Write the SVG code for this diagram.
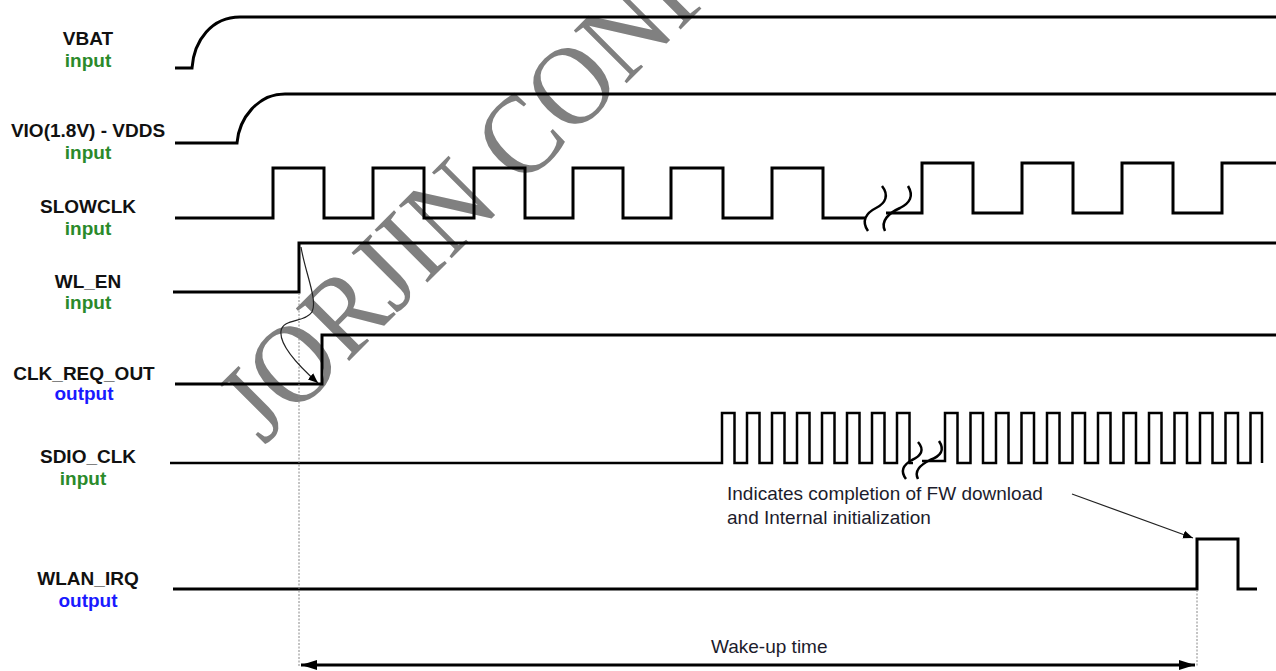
<svg xmlns="http://www.w3.org/2000/svg" width="1276" height="671" viewBox="0 0 1276 671">
<style>
.lbl{font-family:"Liberation Sans",Arial,sans-serif;font-weight:bold;font-size:19px;text-anchor:middle;fill:#111}
.in{fill:#2a8a2a}
.out{fill:#1a1aff}
.wf{fill:none;stroke:#000;stroke-width:3;stroke-linejoin:miter}
.thin{fill:none;stroke:#000;stroke-width:2.5}
.brk{fill:none;stroke:#000;stroke-width:2.5}
.dot{fill:none;stroke:#888;stroke-width:1;stroke-dasharray:2 1.5}
.note{font-family:"Liberation Sans",Arial,sans-serif;font-size:19px;fill:#1c1c2c}
.wm{font-family:"Liberation Serif","Times New Roman",serif;font-size:114px;fill:#808080}
</style>
<defs>
<marker id="ah" viewBox="0 0 10 10" refX="10" refY="5" markerWidth="10" markerHeight="10" markerUnits="userSpaceOnUse" orient="auto">
<path d="M0,1 L10,5 L0,9 Z" fill="#000"/>
</marker>
<marker id="big" viewBox="0 0 16 10" refX="16" refY="5" markerWidth="16" markerHeight="10" markerUnits="userSpaceOnUse" orient="auto-start-reverse">
<path d="M0,0 L16,5 L0,10 Z" fill="#000"/>
</marker>
</defs>
<rect width="1276" height="671" fill="#fff"/>

<g id="watermark">
<text class="wm" transform="translate(264,446) rotate(-45) scale(0.92,1)">JORJIN CONFI</text>
</g>

<g id="vbat">
<text class="lbl" x="88" y="45">VBAT</text>
<text class="lbl in" x="88" y="67">input</text>
<path class="wf" d="M175,68 H192 C194,40 212,17 240,17 H1276" stroke-width="3.5"/>
</g>

<g id="vio">
<text class="lbl" x="88" y="137">VIO(1.8V) - VDDS</text>
<text class="lbl in" x="88" y="159">input</text>
<path class="wf" d="M175,143 H237 C239,118 258,94 285,94 H1276"/>
</g>

<g id="slowclk">
<text class="lbl" x="88" y="213">SLOWCLK</text>
<text class="lbl in" x="88" y="235">input</text>
<path class="wf" d="M175,218 H273 V168 H324 V218 H373 V168 H424 V218 H474 V168 H525 V218 H573 V168 H623 V218 H671 V168 H723 V218 H772 V168 H823 V218 H866"/>
<path class="wf" d="M886,213 H922 V163 H973 V213 H1022 V163 H1073 V213 H1122 V163 H1173 V213 H1222 V163 H1276"/>
<path class="brk" d="M882,186 C889,195 886,203 876,208 C866,213 861,221 868,231"/>
<path class="brk" d="M908,186 C914,196 910,203 900,208 C889,213 880,221 885,231"/>
</g>

<g id="wl_en">
<text class="lbl" x="88" y="288">WL_EN</text>
<text class="lbl in" x="88" y="309">input</text>
<path class="wf" d="M173,292 H299 V243 H1276"/>
</g>

<g id="clk_req_out">
<text class="lbl" x="84" y="380">CLK_REQ_OUT</text>
<text class="lbl out" x="84" y="400">output</text>
<path class="wf" d="M175,384 H322 V335 H1276"/>
</g>

<g id="sdio_clk">
<text class="lbl" x="88" y="463">SDIO_CLK</text>
<text class="lbl in" x="83" y="485">input</text>
<path class="thin" d="M170,463 H722 V413 H734.5 V463 H747 V413 H759.5 V463 H772 V413 H784.5 V463 H797 V413 H809.5 V463 H822 V413 H834.5 V463 H847 V413 H859.5 V463 H872 V413 H884.5 V463 H897 V413 H909.5 V463 H913"/>
<path class="thin" d="M922,461 H945 V413 H957.5 V463 H970.5 V413 H983 V463 H996 V413 H1008.5 V463 H1021.5 V413 H1034 V463 H1047 V413 H1059.5 V463 H1072.5 V413 H1085 V463 H1098 V413 H1110.5 V463 H1123.5 V413 H1136 V463 H1149 V413 H1161.5 V463 H1174.5 V413 H1187 V463 H1200 V413 H1212.5 V463 H1225.5 V413 H1238 V463 H1250.5 V413 H1262 V463"/>
<path class="brk" d="M918,442 C925,450 921,456 912,460 C903,465 900,471 906,479"/>
<path class="brk" d="M939,441 C945,450 941,456 930,460 C920,465 914,471 918,479"/>
</g>

<g id="wlan_irq">
<text class="lbl" x="88" y="585">WLAN_IRQ</text>
<text class="lbl out" x="88" y="607">output</text>
<path class="wf" d="M173,589 H1197 V539 H1238 V589 H1257"/>
</g>

<g id="annotations">
<text class="note" x="727" y="500">Indicates completion of FW download</text>
<text class="note" x="727" y="524">and Internal initialization</text>
<text class="note" x="711" y="653">Wake-up time</text>
</g>

<g id="connectors">
<path class="dot" d="M299,293 V667"/>
<path class="dot" d="M1197,590 V667"/>
<path d="M301,247 C305,272 318,300 312,312 C305,323 283,318 281,331 C279,346 300,367 318,383" fill="none" stroke="#222" stroke-width="1.2" marker-end="url(#ah)"/>
<path d="M1072,494 L1193,538" fill="none" stroke="#222" stroke-width="1.2" marker-end="url(#ah)"/>
<path d="M301,665 H1195" fill="none" stroke="#000" stroke-width="3" marker-start="url(#big)" marker-end="url(#big)"/>
</g>
</svg>
